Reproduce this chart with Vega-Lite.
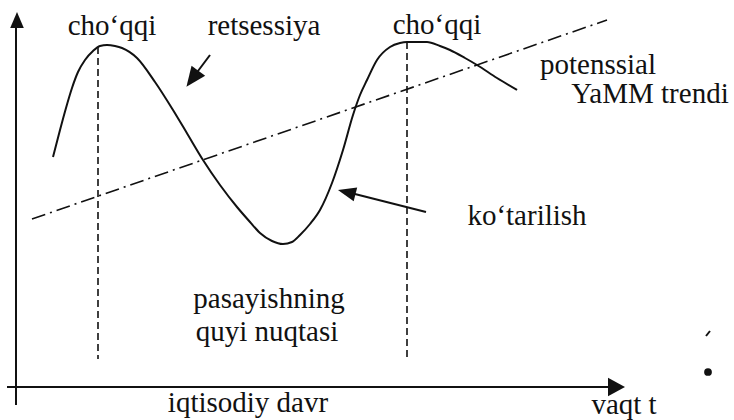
{
  "$schema": "https://vega.github.io/schema/vega-lite/v6.json",
  "width": 734,
  "height": 420,
  "autosize": {"type": "fit", "contains": "padding"},
  "padding": 0,
  "background": "#ffffff",
  "config": {"view": {"stroke": null}},
  "datasets": {
    "curve": [
      {"x": 53, "y": 263}, {"x": 60, "y": 290}, {"x": 66, "y": 312}, {"x": 72, "y": 332},
      {"x": 78, "y": 348}, {"x": 85, "y": 360}, {"x": 93, "y": 369}, {"x": 100, "y": 374},
      {"x": 107, "y": 375}, {"x": 115, "y": 374}, {"x": 122, "y": 372}, {"x": 137, "y": 362},
      {"x": 155, "y": 338}, {"x": 173, "y": 310}, {"x": 188, "y": 285}, {"x": 203, "y": 260},
      {"x": 220, "y": 235}, {"x": 237, "y": 213}, {"x": 250, "y": 198}, {"x": 260, "y": 187},
      {"x": 272, "y": 179}, {"x": 283, "y": 176}, {"x": 292, "y": 178}, {"x": 300, "y": 185},
      {"x": 310, "y": 196}, {"x": 320, "y": 210}, {"x": 332, "y": 237}, {"x": 343, "y": 270},
      {"x": 353, "y": 305}, {"x": 360, "y": 325}, {"x": 367, "y": 340}, {"x": 377, "y": 360},
      {"x": 390, "y": 373}, {"x": 400, "y": 377}, {"x": 407, "y": 378}, {"x": 417, "y": 378},
      {"x": 427, "y": 378}, {"x": 440, "y": 374}, {"x": 450, "y": 370}, {"x": 465, "y": 362},
      {"x": 477, "y": 355}, {"x": 497, "y": 342}, {"x": 517, "y": 330}
    ],
    "trend": [
      {"x": 32, "y": 201}, {"x": 607, "y": 400}
    ],
    "peaks": [
      {"x": 98, "y": 373, "x2": 98, "y2": 61},
      {"x": 407, "y": 378, "x2": 407, "y2": 61}
    ],
    "axes": [
      {"name": "vertical", "x": 16, "y": 15, "x2": 16, "y2": 400},
      {"name": "horizontal", "x": 7, "y": 33, "x2": 616, "y2": 33}
    ],
    "pointers": [
      {"name": "retsessiya", "x": 210, "y": 365, "x2": 192, "y2": 341},
      {"name": "kotarilish", "x": 426, "y": 208, "x2": 347, "y2": 228},
      {"name": "speck", "x": 706, "y": 84, "x2": 710, "y2": 89}
    ],
    "heads": [
      {"name": "yaxis", "x": 17, "y": 400},
      {"name": "xaxis", "x": 616.5, "y": 33},
      {"name": "retsessiya", "x": 192.4, "y": 341.2},
      {"name": "kotarilish", "x": 346.7, "y": 227.8}
    ],
    "dot": [
      {"x": 708, "y": 48}
    ],
    "labels": [
      {"label": "choʻqqi", "x": 112, "y": 385},
      {"label": "retsessiya", "x": 264, "y": 385},
      {"label": "choʻqqi", "x": 437, "y": 386},
      {"label": "potenssial", "x": 598, "y": 346},
      {"label": "YaMM trendi", "x": 650, "y": 317},
      {"label": "koʻtarilish", "x": 527, "y": 195},
      {"label": "pasayishning", "x": 269, "y": 112},
      {"label": "quyi nuqtasi", "x": 267, "y": 79},
      {"label": "iqtisodiy davr", "x": 248, "y": 8},
      {"label": "vaqt t", "x": 624, "y": 6}
    ]
  },
  "encoding": {
    "x": {"field": "x", "type": "quantitative", "axis": null, "scale": {"domain": [0, 734], "nice": false, "zero": false}},
    "y": {"field": "y", "type": "quantitative", "axis": null, "scale": {"domain": [0, 420], "nice": false, "zero": false}}
  },
  "layer": [
    {
      "data": {"name": "trend"},
      "mark": {"type": "line", "color": "#111111", "strokeWidth": 1.6, "strokeDash": [14, 5, 2, 5]},
      "encoding": {}
    },
    {
      "data": {"name": "peaks"},
      "mark": {"type": "rule", "color": "#111111", "strokeWidth": 1.6, "strokeDash": [7, 4]},
      "encoding": {"x2": {"field": "x2"}, "y2": {"field": "y2"}}
    },
    {
      "data": {"name": "curve"},
      "mark": {"type": "line", "color": "#111111", "strokeWidth": 2, "interpolate": "monotone"},
      "encoding": {}
    },
    {
      "data": {"name": "axes"},
      "mark": {"type": "rule", "color": "#111111", "strokeWidth": 2},
      "encoding": {"x2": {"field": "x2"}, "y2": {"field": "y2"}}
    },
    {
      "data": {"name": "pointers"},
      "mark": {"type": "rule", "color": "#111111", "strokeWidth": 2},
      "encoding": {"x2": {"field": "x2"}, "y2": {"field": "y2"}}
    },
    {
      "data": {"name": "heads"},
      "transform": [{"filter": "datum.name === 'yaxis'"}],
      "mark": {"type": "point", "shape": "M0,-1L0.85,1L-0.85,1Z", "filled": true, "color": "#111111", "opacity": 1, "size": 256, "angle": 0}
    },
    {
      "data": {"name": "heads"},
      "transform": [{"filter": "datum.name === 'xaxis'"}],
      "mark": {"type": "point", "shape": "M0,-1L1.1,1L-1.1,1Z", "filled": true, "color": "#111111", "opacity": 1, "size": 289, "angle": 90}
    },
    {
      "data": {"name": "heads"},
      "transform": [{"filter": "datum.name === 'retsessiya'"}],
      "mark": {"type": "point", "shape": "M0,-1L0.85,1L-0.85,1Z", "filled": true, "color": "#111111", "opacity": 1, "size": 400, "angle": 216.6}
    },
    {
      "data": {"name": "heads"},
      "transform": [{"filter": "datum.name === 'kotarilish'"}],
      "mark": {"type": "point", "shape": "M0,-1L0.8,1L-0.8,1Z", "filled": true, "color": "#111111", "opacity": 1, "size": 324, "angle": 284}
    },
    {
      "data": {"name": "dot"},
      "mark": {"type": "point", "shape": "circle", "filled": true, "color": "#111111", "opacity": 1, "size": 60}
    },
    {
      "data": {"name": "labels"},
      "mark": {"type": "text", "align": "center", "baseline": "alphabetic", "font": "Times New Roman", "fontSize": 29, "color": "#111111"},
      "encoding": {"text": {"field": "label"}}
    }
  ]
}
